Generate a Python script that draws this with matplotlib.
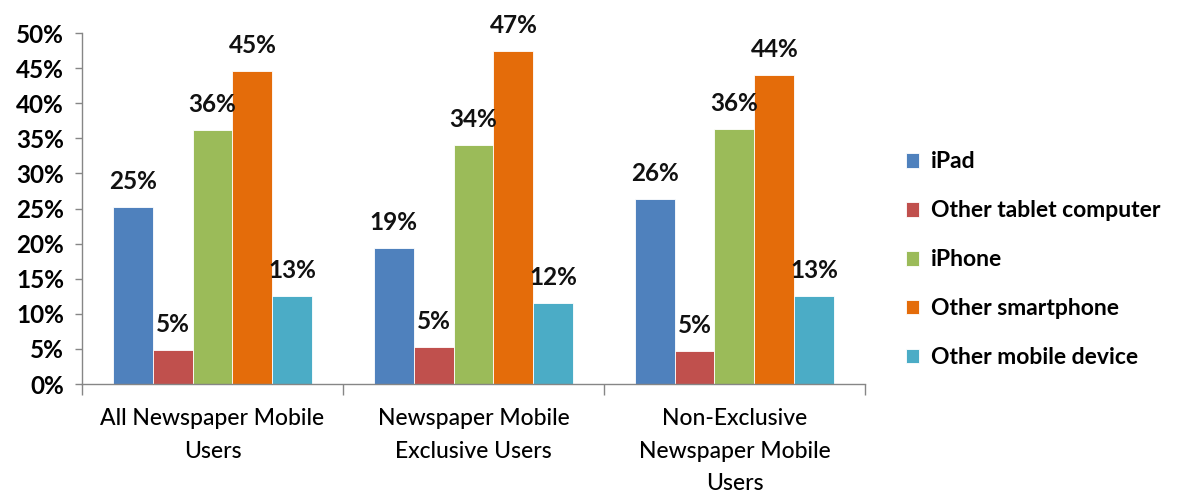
import numpy as np
import matplotlib
matplotlib.use("Agg")
import matplotlib.pyplot as plt
from matplotlib.ticker import FixedLocator, PercentFormatter

plt.rcParams["font.family"] = ["Lato", "DejaVu Sans"]

groups = [
    "All Newspaper Mobile\nUsers",
    "Newspaper Mobile\nExclusive Users",
    "Non-Exclusive\nNewspaper Mobile\nUsers",
]
devices = ["iPad", "Other tablet computer", "iPhone", "Other smartphone", "Other mobile device"]

# share of users per device, one list per device across the three groups
ipad = [25.2, 19.4, 26.4]
other_tablet = [4.9, 5.3, 4.7]
iphone = [36.2, 34.1, 36.4]
other_smartphone = [44.6, 47.4, 44.0]
other_mobile = [12.6, 11.6, 12.6]

colors = ["#4F81BD", "#C0504D", "#9BBB59", "#E46C0A", "#4BACC6"]

series = [ipad, other_tablet, iphone, other_smartphone, other_mobile]

fig = plt.figure(figsize=(11.8, 4.93), dpi=100)
ax = fig.add_axes([0.0695, 0.221, 0.6635, 0.712])

x = np.arange(len(groups))
width = 0.153
for i, (name, vals, c) in enumerate(zip(devices, series, colors)):
    pos = x + (i - 2) * width
    bars = ax.bar(pos, vals, width, color=c, label=name, edgecolor="white", linewidth=0.6)
    for b, v in zip(bars, vals):
        ax.annotate(f"{v:.0f}%", (b.get_x() + b.get_width() / 2, v),
                    xytext=(0, 10), textcoords="offset points",
                    ha="center", va="bottom", fontsize=17.5, fontweight="bold",
                    color="#111111")

ax.set_xlim(-0.5, len(groups) - 0.5)
ax.set_ylim(0, 50)
ax.yaxis.set_major_locator(FixedLocator(np.arange(0, 51, 5)))
ax.yaxis.set_major_formatter(PercentFormatter(decimals=0))

# group separators as major ticks, names on minor ticks
ax.xaxis.set_major_locator(FixedLocator(np.arange(-0.5, len(groups), 1.0)))
ax.xaxis.set_major_formatter(plt.NullFormatter())
ax.xaxis.set_minor_locator(FixedLocator(x))
ax.set_xticklabels(groups, minor=True)
ax.tick_params(axis="x", which="minor", length=0, pad=17, labelsize=16.5)
ax.tick_params(axis="x", which="major", length=8, color="#868686", width=1)
ax.tick_params(axis="y", length=5, color="#868686", width=1, labelsize=17.5, pad=8)
for lbl in ax.get_yticklabels():
    lbl.set_fontweight("bold")
for lbl in ax.get_xticklabels(minor=True):
    lbl.set_fontweight("medium")
    lbl.set_linespacing(1.7)

for side in ["top", "right"]:
    ax.spines[side].set_visible(False)
for side in ["left", "bottom"]:
    ax.spines[side].set_color("#868686")
    ax.spines[side].set_linewidth(1)

leg = fig.legend(loc="center left", bbox_to_anchor=(0.75, 0.473), frameon=False,
                 prop={"size": 16.5, "weight": "bold"}, handlelength=0.6,
                 handleheight=0.6, handletextpad=0.5, labelspacing=1.22)

fig.savefig("out.png", dpi=100)
